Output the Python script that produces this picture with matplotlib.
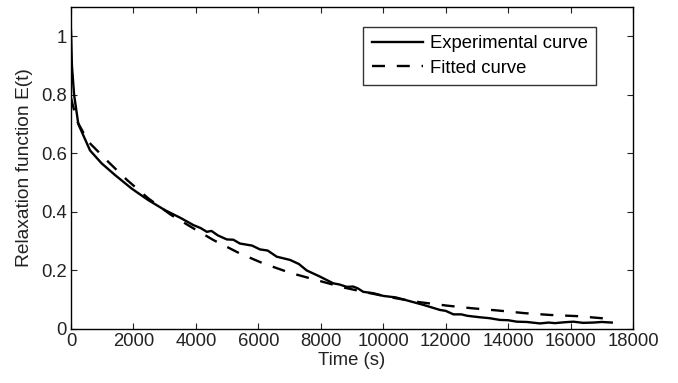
import matplotlib
matplotlib.use("Agg")
import matplotlib.pyplot as plt
from matplotlib.ticker import FuncFormatter

plt.rcParams['font.family'] = ['Liberation Sans', 'DejaVu Sans']

# Experimental curve (time s, relaxation value)
exp_t = [0, 30, 100, 235, 610, 980, 1410, 1940, 2480, 3010, 3500, 3920, 4150,
         4350, 4500, 4700, 4990, 5200, 5410, 5800, 6050, 6300, 6590, 7015,
         7300, 7550, 7975, 8400, 8600, 8830, 9040, 9200, 9360, 9700, 10000,
         10400, 10750, 11300, 11820, 12000, 12250, 12500, 12700, 13100, 13400,
         13740, 14000, 14280, 14600, 15020, 15300, 15500, 15800, 16090, 16400,
         16730, 17000, 17320]
exp_v = [1.02, 0.90, 0.80, 0.70, 0.61, 0.566, 0.526, 0.48, 0.44, 0.406, 0.38,
         0.355, 0.345, 0.332, 0.335, 0.32, 0.306, 0.305, 0.292, 0.285, 0.272,
         0.268, 0.247, 0.236, 0.222, 0.20, 0.179, 0.156, 0.152, 0.144, 0.145,
         0.138, 0.127, 0.122, 0.113, 0.108, 0.098, 0.082, 0.065, 0.062, 0.050,
         0.050, 0.045, 0.040, 0.037, 0.031, 0.030, 0.025, 0.024, 0.019, 0.022,
         0.020, 0.023, 0.025, 0.021, 0.022, 0.024, 0.022]

# Fitted curve
fit_t = [0, 180, 555, 1195, 1785, 2480, 3200, 3920, 4560, 5410, 6160, 7015,
         7870, 8720, 9500, 10300, 11070, 12030, 12830, 13690, 14540, 15340,
         16200, 17100, 17300]
fit_v = [0.79, 0.713, 0.64, 0.571, 0.51, 0.446, 0.39, 0.344, 0.304, 0.258,
         0.224, 0.192, 0.167, 0.142, 0.124, 0.107, 0.093, 0.080, 0.071, 0.063,
         0.054, 0.048, 0.044, 0.036, 0.035]

xticks = [0, 2000, 4000, 6000, 8000, 10000, 12000, 14000, 16000, 18000]
yticks = [0, 0.2, 0.4, 0.6, 0.8, 1.0]

fs = 13.3

fig = plt.figure(figsize=(6.78, 3.83), dpi=100)
ax = fig.add_axes([0.1047, 0.141, 0.8289, 0.8407])

ax.plot(exp_t, exp_v, color='black', lw=1.7, linestyle='-', label='Experimental curve')
ax.plot(fit_t, fit_v, color='black', lw=1.7, linestyle=(0, (5.5, 5)), label='Fitted curve')

ax.set_xlim(0, 18000)
ax.set_ylim(0, 1.1)
ax.set_xticks(xticks)
ax.set_yticks(yticks)
ax.yaxis.set_major_formatter(FuncFormatter(lambda v, p: ('%g' % v)))
ax.tick_params(direction='in', top=True, right=True, length=4, width=0.8,
               labelsize=fs, colors='#222222', pad=3)
for s in ax.spines.values():
    s.set_linewidth(1.0)
ax.set_xlabel('Time (s)', fontsize=fs, color='#222222', labelpad=1)
ax.set_ylabel('Relaxation function E(t)', fontsize=13.8, color='#222222', labelpad=6)

leg = ax.legend(loc='upper right', bbox_to_anchor=(0.934, 0.938), borderaxespad=0,
                fontsize=fs, frameon=True, fancybox=False, edgecolor='black',
                handlelength=2.8, borderpad=0.45, labelspacing=0.4, handletextpad=0.35)
leg.get_frame().set_linewidth(1.0)

fig.savefig('out.png', dpi=100)
